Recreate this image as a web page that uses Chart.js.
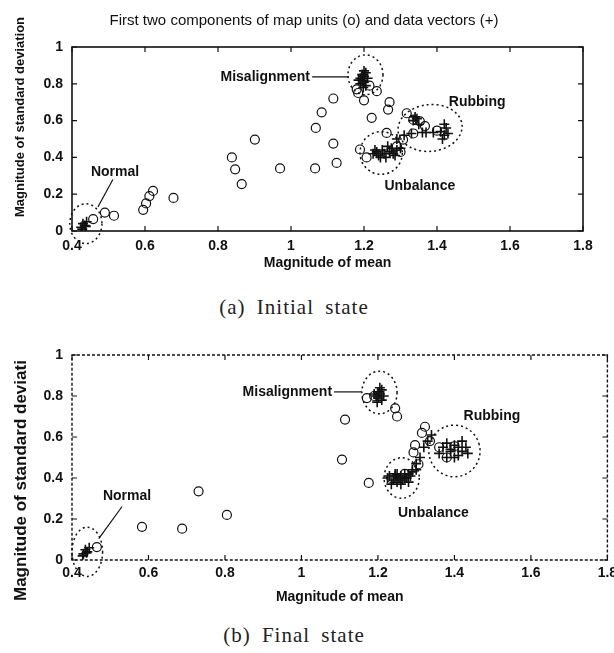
<!DOCTYPE html>
<html>
<head>
<meta charset="utf-8">
<script src="https://cdn.jsdelivr.net/npm/chart.js@4.4.0/dist/chart.umd.min.js"></script>
<style>
  body { margin: 0; background: #fff; width: 614px; height: 653px; position: relative; overflow: hidden; }
  .panel { position: absolute; left: 0; }
  .caption { position: absolute; left: 0; width: 588px; text-align: center; font-family: 'Liberation Serif', serif;
             font-size: 21px; letter-spacing: 1px; word-spacing: 5px; color: #222; }
</style>
</head>
<body>
<div class="panel" style="top:0"><canvas id="initialChart" width="614" height="275"></canvas></div>
<div class="caption" style="top:295px">(a) Initial state</div>
<div class="panel" style="top:330px"><canvas id="finalChart" width="614" height="285"></canvas></div>
<div class="caption" style="top:623px">(b) Final state</div>
<script>
// Axis ticks
const xTicks = [0.4, 0.6, 0.8, 1, 1.2, 1.4, 1.6, 1.8];
const yTicks = [0, 0.2, 0.4, 0.6, 0.8, 1];

// (a) Initial state - map units (o)
const initialUnitX = [0.458, 0.49, 0.515, 0.595, 0.603, 0.612, 0.622, 0.678, 0.838, 0.847, 0.865, 0.901, 0.97, 1.066, 1.068, 1.084, 1.116, 1.116, 1.125, 1.18, 1.184, 1.20, 1.215, 1.235, 1.27, 1.266, 1.221, 1.189, 1.207, 1.262, 1.317, 1.335, 1.353, 1.307, 1.367, 1.29, 1.30, 1.40, 1.335];
const initialUnitY = [0.065, 0.10, 0.083, 0.115, 0.15, 0.19, 0.218, 0.18, 0.40, 0.335, 0.255, 0.497, 0.34, 0.34, 0.56, 0.645, 0.72, 0.475, 0.37, 0.77, 0.75, 0.71, 0.79, 0.76, 0.70, 0.66, 0.615, 0.443, 0.40, 0.533, 0.64, 0.605, 0.596, 0.497, 0.57, 0.46, 0.43, 0.545, 0.53];

// (a) Initial state - data vectors (+), by fault
const initialNormalX = [0.425, 0.43, 0.435, 0.44, 0.428, 0.438];
const initialNormalY = [0.02, 0.04, 0.03, 0.05, 0.01, 0.025];
const initialMisalignX = [1.19, 1.195, 1.2, 1.205, 1.19, 1.2, 1.21, 1.195, 1.205, 1.185, 1.2, 1.198];
const initialMisalignY = [0.80, 0.82, 0.84, 0.86, 0.83, 0.81, 0.83, 0.85, 0.79, 0.82, 0.87, 0.78];
const initialUnbalanceX = [1.225, 1.235, 1.24, 1.25, 1.255, 1.26, 1.27, 1.275, 1.28, 1.29, 1.245, 1.265, 1.3, 1.285, 1.23];
const initialUnbalanceY = [0.42, 0.43, 0.41, 0.44, 0.42, 0.40, 0.43, 0.45, 0.42, 0.44, 0.40, 0.46, 0.45, 0.41, 0.44];
const initialRubbingX = [1.29, 1.31, 1.33, 1.335, 1.34, 1.35, 1.36, 1.37, 1.39, 1.41, 1.42, 1.425, 1.42, 1.43, 1.415, 1.345];
const initialRubbingY = [0.50, 0.52, 0.53, 0.60, 0.62, 0.58, 0.535, 0.535, 0.535, 0.54, 0.52, 0.56, 0.58, 0.53, 0.50, 0.61];

// (b) Final state - map units (o)
const finalUnitX = [0.465, 0.583, 0.688, 0.731, 0.805, 1.114, 1.106, 1.176, 1.171, 1.245, 1.25, 1.315, 1.323, 1.297, 1.293, 1.336, 1.306, 1.36, 1.38, 1.40, 1.27, 1.235, 1.19];
const finalUnitY = [0.063, 0.162, 0.153, 0.335, 0.22, 0.685, 0.49, 0.376, 0.79, 0.74, 0.70, 0.62, 0.65, 0.56, 0.525, 0.58, 0.467, 0.55, 0.50, 0.555, 0.42, 0.40, 0.80];

// (b) Final state - data vectors (+), by fault
const finalNormalX = [0.43, 0.435, 0.44, 0.428, 0.445, 0.438];
const finalNormalY = [0.03, 0.05, 0.04, 0.02, 0.06, 0.035];
const finalMisalignX = [1.195, 1.2, 1.205, 1.21, 1.2, 1.19, 1.215, 1.205, 1.198, 1.21];
const finalMisalignY = [0.80, 0.82, 0.81, 0.83, 0.79, 0.81, 0.80, 0.84, 0.77, 0.78];
const finalUnbalanceX = [1.225, 1.23, 1.24, 1.245, 1.25, 1.255, 1.26, 1.265, 1.27, 1.275, 1.28, 1.285, 1.29, 1.235, 1.25, 1.26, 1.27, 1.28, 1.245, 1.3];
const finalUnbalanceY = [0.40, 0.41, 0.39, 0.42, 0.38, 0.40, 0.41, 0.39, 0.42, 0.40, 0.38, 0.41, 0.43, 0.37, 0.42, 0.37, 0.40, 0.42, 0.41, 0.44];
const finalRubbingX = [1.36, 1.37, 1.38, 1.39, 1.40, 1.41, 1.42, 1.43, 1.435, 1.38, 1.40, 1.42, 1.39, 1.41, 1.30, 1.31, 1.32, 1.33, 1.34, 1.29];
const finalRubbingY = [0.52, 0.55, 0.50, 0.53, 0.56, 0.51, 0.53, 0.55, 0.52, 0.57, 0.50, 0.58, 0.54, 0.55, 0.47, 0.50, 0.55, 0.58, 0.61, 0.44];

const ink = '#111';
const sans = "'Liberation Sans', Arial, sans-serif";

function toPoints(xs, ys) {
    return xs.map((v, i) => ({ x: v, y: ys[i] }));
}

// MATLAB style tick text: 0, 0.2, ... 1
function tickText(v) {
    return String(Math.round(v * 10) / 10);
}

// Draws the frame, inward ticks, dotted fault rings, labels and titles
const scanMarks = {
    id: 'scanMarks',
    afterDraw(chart, args, o) {
        const { ctx, chartArea: a, scales: { x, y } } = chart;
        ctx.save();
        ctx.strokeStyle = ink;
        ctx.fillStyle = ink;

        // frame
        ctx.lineWidth = o.frameWidth;
        ctx.setLineDash(o.frameDash);
        ctx.strokeRect(a.left, a.top, a.right - a.left, a.bottom - a.top);
        ctx.setLineDash([]);

        // ticks on all four sides, pointing in
        ctx.lineWidth = 1.2;
        ctx.beginPath();
        xTicks.forEach(t => {
            const px = x.getPixelForValue(t);
            ctx.moveTo(px, a.bottom); ctx.lineTo(px, a.bottom - 5);
            ctx.moveTo(px, a.top); ctx.lineTo(px, a.top + 5);
        });
        yTicks.forEach(t => {
            const py = y.getPixelForValue(t);
            ctx.moveTo(a.left, py); ctx.lineTo(a.left + 5, py);
            ctx.moveTo(a.right, py); ctx.lineTo(a.right - 5, py);
        });
        ctx.stroke();

        // dotted rings round each fault cluster
        ctx.lineWidth = 1.5;
        ctx.setLineDash([2, 3]);
        o.rings.forEach(r => {
            const cx = x.getPixelForValue(r.x);
            const cy = y.getPixelForValue(r.y);
            const rx = Math.abs(x.getPixelForValue(r.x + r.rx) - cx);
            const ry = Math.abs(y.getPixelForValue(r.y + r.ry) - cy);
            ctx.beginPath();
            ctx.ellipse(cx, cy, rx, ry, r.tilt || 0, 0, Math.PI * 2);
            ctx.stroke();
        });
        ctx.setLineDash([]);

        // leader lines
        ctx.lineWidth = 1.2;
        o.leaders.forEach(l => {
            ctx.beginPath();
            ctx.moveTo(x.getPixelForValue(l[0]), y.getPixelForValue(l[1]));
            ctx.lineTo(x.getPixelForValue(l[2]), y.getPixelForValue(l[3]));
            ctx.stroke();
        });

        // fault labels
        ctx.font = o.labelFont;
        ctx.textBaseline = 'middle';
        o.labels.forEach(l => {
            ctx.textAlign = l.align || 'center';
            ctx.fillText(l.text, x.getPixelForValue(l.x), y.getPixelForValue(l.y));
        });

        // chart title
        if (o.title) {
            ctx.font = o.title.font;
            ctx.textAlign = 'center';
            ctx.fillText(o.title.text, o.title.x, o.title.y);
        }

        // y axis title, rotated
        ctx.font = o.yTitle.font;
        ctx.translate(o.yTitle.x, o.yTitle.y);
        ctx.rotate(-Math.PI / 2);
        ctx.textAlign = o.yTitle.align;
        ctx.fillText(o.yTitle.text, 0, 0);
        ctx.restore();
    }
};

function makeChart(id, units, vectors, pad, xHeight, tickPad, titlePad, marks) {
    const tickFont = { family: sans, size: 14, weight: 'bold' };
    return new Chart(document.getElementById(id).getContext('2d'), {
        type: 'scatter',
        data: {
            datasets: [{
                label: 'map units (o)',
                data: units,
                pointStyle: 'circle',
                pointRadius: 4.5,
                borderWidth: 1.2,
                borderColor: ink,
                backgroundColor: 'rgba(0,0,0,0)'
            }, {
                label: 'data vectors (+)',
                data: vectors,
                pointStyle: 'cross',
                pointRadius: 5,
                borderWidth: 1.6,
                borderColor: ink,
                backgroundColor: ink
            }]
        },
        options: {
            responsive: false,
            animation: false,
            devicePixelRatio: 1,
            layout: { padding: pad },
            plugins: {
                legend: { display: false },
                tooltip: { enabled: false },
                scanMarks: marks
            },
            scales: {
                x: {
                    type: 'linear', min: 0.4, max: 1.8,
                    afterBuildTicks: s => { s.ticks = xTicks.map(v => ({ value: v })); },
                    ticks: { color: ink, font: tickFont, padding: tickPad, callback: tickText },
                    grid: { display: false, drawTicks: false },
                    border: { display: false },
                    title: { display: true, text: 'Magnitude of mean', color: ink,
                             font: { family: sans, size: 14, weight: 'bold' }, padding: { top: 0, bottom: titlePad } },
                    afterFit: s => { s.height = xHeight; s.paddingRight = 0; s.paddingLeft = 0; }
                },
                y: {
                    type: 'linear', min: 0, max: 1,
                    afterBuildTicks: s => { s.ticks = yTicks.map(v => ({ value: v })); },
                    ticks: { color: ink, font: tickFont, padding: 9, callback: tickText },
                    grid: { display: false, drawTicks: false },
                    border: { display: false },
                    afterFit: s => { s.width = 72; s.paddingTop = 0; s.paddingBottom = 0; }
                }
            }
        },
        plugins: [scanMarks]
    });
}

makeChart('initialChart',
    toPoints(initialUnitX, initialUnitY),
    toPoints(initialNormalX.concat(initialMisalignX, initialUnbalanceX, initialRubbingX),
             initialNormalY.concat(initialMisalignY, initialUnbalanceY, initialRubbingY)),
    { top: 47, right: 31, left: 0, bottom: 0 }, 44, 7, 3,
    {
        frameWidth: 1.6, frameDash: [],
        rings: [
            { x: 0.438, y: 0.04, rx: 0.044, ry: 0.108 },
            { x: 1.204, y: 0.849, rx: 0.048, ry: 0.108 },
            { x: 1.381, y: 0.56, rx: 0.088, ry: 0.127, tilt: -0.1 },
            { x: 1.247, y: 0.424, rx: 0.058, ry: 0.116 }
        ],
        leaders: [[1.058, 0.838, 1.158, 0.838], [0.512, 0.28, 0.471, 0.13]],
        labelFont: "bold 14px " + sans,
        labels: [
            { text: 'Misalignment', x: 1.052, y: 0.838, align: 'right' },
            { text: 'Rubbing', x: 1.51, y: 0.703 },
            { text: 'Unbalance', x: 1.353, y: 0.243 },
            { text: 'Normal', x: 0.518, y: 0.319 }
        ],
        title: { text: 'First two components of map units (o) and data vectors (+)',
                 font: "15px " + sans, x: 304, y: 21 },
        yTitle: { text: 'Magnitude of standard deviation', font: "bold 13px " + sans,
                  x: 20, y: 117, align: 'center' }
    });

makeChart('finalChart',
    toPoints(finalUnitX, finalUnitY),
    toPoints(finalNormalX.concat(finalMisalignX, finalUnbalanceX, finalRubbingX),
             finalNormalY.concat(finalMisalignY, finalUnbalanceY, finalRubbingY)),
    { top: 25, right: 6, left: 0, bottom: 0 }, 55, 5, 9,
    {
        frameWidth: 1.4, frameDash: [3, 2],
        rings: [
            { x: 0.44, y: 0.04, rx: 0.04, ry: 0.12 },
            { x: 1.204, y: 0.817, rx: 0.046, ry: 0.104 },
            { x: 1.40, y: 0.532, rx: 0.067, ry: 0.126, tilt: -0.3 },
            { x: 1.262, y: 0.40, rx: 0.046, ry: 0.099 }
        ],
        leaders: [[1.085, 0.82, 1.158, 0.82], [0.531, 0.261, 0.47, 0.104]],
        labelFont: "bold 14px " + sans,
        labels: [
            { text: 'Misalignment', x: 1.08, y: 0.82, align: 'right' },
            { text: 'Rubbing', x: 1.498, y: 0.70 },
            { text: 'Unbalance', x: 1.345, y: 0.228 },
            { text: 'Normal', x: 0.544, y: 0.31 }
        ],
        yTitle: { text: 'Magnitude of standard deviati', font: "bold 17px " + sans,
                  x: 21, y: 271, align: 'left' }
    });
</script>
</body>
</html>
